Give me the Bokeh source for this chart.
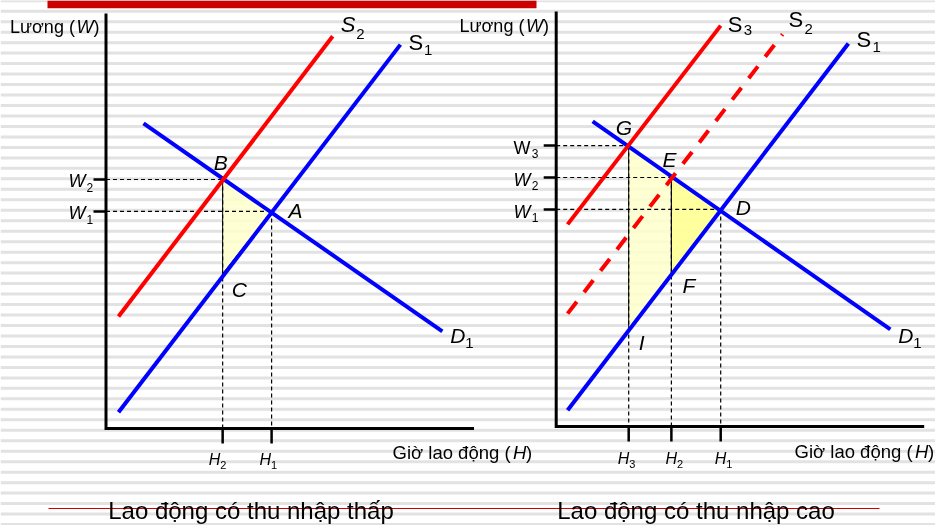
import numpy as np
from bokeh.plotting import figure
from bokeh.models import Range1d
from bokeh.core.properties import value
from bokeh.embed import file_html
from bokeh.resources import INLINE

# ---------------- DATA (economic units: hours H on x, wage W on y) ----------------
AXIS_MAX_H = 10.0
AXIS_MAX_W = 10.0

# Left panel: "Lao động có thu nhập thấp"
low_S1_H = [0.34, 8.00]
low_S1_W = [0.39, 9.25]
low_S2_H = [0.34, 6.16]
low_S2_W = [2.70, 9.45]
low_D1_H = [1.02, 9.14]
low_D1_W = [7.35, 2.34]
low_H_names = ["1", "2"]          # H1, H2
low_H_vals = [4.50, 3.17]
low_W_names = ["1", "2"]          # W1, W2
low_W_vals = [5.23, 6.00]
low_C_W = 3.73                    # S1 evaluated at H2 (point C)

# Right panel: "Lao động có thu nhập cao"
high_S1_H = [0.31, 7.94]
high_S1_W = [0.39, 9.23]
high_S2_H = [0.31, 6.15]
high_S2_W = [2.72, 9.45]
high_S3_H = [0.31, 4.47]
high_S3_W = [4.87, 9.66]
high_D1_H = [0.99, 9.08]
high_D1_W = [7.35, 2.34]
high_H_names = ["1", "2", "3"]    # H1, H2, H3
high_H_vals = [4.47, 3.13, 1.97]
high_W_names = ["1", "2", "3"]    # W1, W2, W3
high_W_vals = [5.23, 6.00, 6.77]
high_F_W = 3.69                   # S1 at H2 (point F)
high_I_W = 2.31                   # S1 at H3 (point I)

titles = ["Lao động có thu nhập thấp", "Lao động có thu nhập cao"]
y_axis_title = ["Lương (", "W", ")"]
x_axis_title = ["Giờ lao động (", "H", ")"]

# ---------------- LAYOUT / STYLE ----------------
PAGE_W, PAGE_H = 935, 525
FONT = "Liberation Sans"
PX_H = 36.8     # pixels per hour unit
PX_W = 41.5     # pixels per wage unit
LOW_ORIGIN = (105.5, 428.0)
HIGH_ORIGIN = (555.7, 426.0)
BLUE = "#0000FF"
RED = "#FF0000"
DARK_RED = "#CC0000"
PALE = "#FFFFCC"
BRIGHT = "#FFFF99"
TICK_W = 12.5 / PX_H
TICK_H = 15.0 / PX_W
BASELINE_FIX = 0.38   # measured: svg text lands ~0.38*size below the requested baseline

p = figure(width=PAGE_W, height=PAGE_H,
           x_range=Range1d(0, PAGE_W), y_range=Range1d(PAGE_H, 0),
           x_axis_type=None, y_axis_type=None,
           output_backend="svg", toolbar_location=None, min_border=0)
p.xgrid.visible = False
p.ygrid.visible = False
p.outline_line_color = None
p.background_fill_color = "white"
p.border_fill_color = "white"
p.styles = {"position": "fixed", "left": "0px", "top": "0px"}

p.extra_x_ranges = {
    "low_x": Range1d(-LOW_ORIGIN[0] / PX_H, (PAGE_W - LOW_ORIGIN[0]) / PX_H),
    "high_x": Range1d(-HIGH_ORIGIN[0] / PX_H, (PAGE_W - HIGH_ORIGIN[0]) / PX_H),
}
p.extra_y_ranges = {
    "low_y": Range1d(-(PAGE_H - LOW_ORIGIN[1]) / PX_W, LOW_ORIGIN[1] / PX_W),
    "high_y": Range1d(-(PAGE_H - HIGH_ORIGIN[1]) / PX_W, HIGH_ORIGIN[1] / PX_W),
}

# ---------------- background stripes & decorations (page coords) ----------------
stripe_y = np.arange(0.24, PAGE_H, 10.476)
p.segment(x0=[0] * len(stripe_y), x1=[PAGE_W] * len(stripe_y), y0=stripe_y, y1=stripe_y,
          line_color="#E2E2E2", line_width=3)
p.quad(left=[47], right=[536], top=[0], bottom=[7.7], fill_color=DARK_RED, line_color=None)
p.segment(x0=[48], x1=[879], y0=[508], y1=[508], line_color=DARK_RED, line_width=1.2)


def txt(x, y, s, size, italic=False, align="left", xo=0, yo=0, rx=None, ry=None):
    kw = {}
    if rx:
        kw["x_range_name"] = rx
        kw["y_range_name"] = ry
    p.text(x=[x], y=[y], text=[s], text_font=value(FONT), text_font_size=f"{size}px",
           text_font_style="italic" if italic else "normal", text_align=align,
           text_baseline="alphabetic", text_color="black", x_offset=xo,
           y_offset=yo - BASELINE_FIX * size, **kw)


def dashed(x0, y0, x1, y1, kw):
    p.segment(x0=x0, y0=y0, x1=x1, y1=y1, line_color="black", line_width=1.2,
              line_dash="4 3", **kw)


def axes_and_ticks(W_vals, H_vals, kw):
    p.line([0, 0, AXIS_MAX_H], [AXIS_MAX_W, 0, 0], line_color="black", line_width=3,
           line_join="miter", **kw)
    n = len(W_vals)
    p.segment(x0=[-TICK_W] * n, y0=W_vals, x1=[0] * n, y1=W_vals,
              line_color="black", line_width=2.5, **kw)
    m = len(H_vals)
    p.segment(x0=H_vals, y0=[0] * m, x1=H_vals, y1=[-TICK_H] * m,
              line_color="black", line_width=2.5, **kw)


# ================= LEFT PANEL =================
kwL = dict(x_range_name="low_x", y_range_name="low_y")
H1, H2 = low_H_vals
W1, W2 = low_W_vals
p.patch([H2, H1, H2], [W2, W1, low_C_W], fill_color=PALE, fill_alpha=0.85,
        line_color="black", line_width=1, **kwL)
dashed([0, 0], [W2, W1], [H2, H1], [W2, W1], kwL)
dashed([H2, H1], [W2, W1], [H2, H1], [0, 0], kwL)
axes_and_ticks(low_W_vals, low_H_vals, kwL)
p.line(low_D1_H, low_D1_W, line_color=BLUE, line_width=4, **kwL)
p.line(low_S1_H, low_S1_W, line_color=BLUE, line_width=4, **kwL)
p.line(low_S2_H, low_S2_W, line_color=RED, line_width=4, **kwL)

rL = dict(rx="low_x", ry="low_y")
# tick labels
for name, w in zip(low_W_names, low_W_vals):
    txt(0, w, "W", 18, italic=True, xo=-37.5, yo=8, **rL)
    txt(0, w, name, 12, xo=-19.5, yo=12.5, **rL)
low_H_lab_dx = [-12, -14]
for name, h, dx in zip(low_H_names, low_H_vals, low_H_lab_dx):
    txt(h, 0, "H", 16, italic=True, xo=dx, yo=37, **rL)
    txt(h, 0, name, 11, xo=dx + 11.5, yo=41, **rL)
# point labels
txt(H2, W2, "B", 21, italic=True, xo=-9, yo=-9, **rL)
txt(H1, W1, "A", 21, italic=True, xo=17, yo=7, **rL)
txt(H2, low_C_W, "C", 21, italic=True, xo=9, yo=24, **rL)
# curve labels
txt(low_S2_H[1], low_S2_W[1], "S", 22, italic=True, xo=8, yo=-3, **rL)
txt(low_S2_H[1], low_S2_W[1], "2", 15, xo=23.5, yo=3, **rL)
txt(low_S1_H[1], low_S1_W[1], "S", 22, xo=8, yo=6, **rL)
txt(low_S1_H[1], low_S1_W[1], "1", 15, xo=23.5, yo=11, **rL)
txt(low_D1_H[1], low_D1_W[1], "D", 21, italic=True, xo=8, yo=12, **rL)
txt(low_D1_H[1], low_D1_W[1], "1", 15, xo=23, yo=17, **rL)

# ================= RIGHT PANEL =================
kwR = dict(x_range_name="high_x", y_range_name="high_y")
h1, h2, h3 = high_H_vals
w1, w2, w3 = high_W_vals
p.patch([h3, h2, h2, h3], [w3, w2, high_F_W, high_I_W], fill_color=PALE, fill_alpha=0.85,
        line_color="black", line_width=1, **kwR)
p.patch([h2, h1, h2], [w2, w1, high_F_W], fill_color=BRIGHT, fill_alpha=0.95,
        line_color="black", line_width=1, **kwR)
dashed([0, 0, 0], [w3, w2, w1], [h3, h2, h1], [w3, w2, w1], kwR)
dashed([h3, h2, h1], [w3, w2, w1], [h3, h2, h1], [0, 0, 0], kwR)
axes_and_ticks(high_W_vals, high_H_vals, kwR)
p.line(high_D1_H, high_D1_W, line_color=BLUE, line_width=4, **kwR)
p.line(high_S1_H, high_S1_W, line_color=BLUE, line_width=4, **kwR)
p.line(high_S2_H, high_S2_W, line_color=RED, line_width=4, line_dash="15 12", **kwR)
p.line(high_S3_H, high_S3_W, line_color=RED, line_width=4, **kwR)

rR = dict(rx="high_x", ry="high_y")
for name, w in zip(high_W_names, high_W_vals):
    italic = name != "3"
    txt(0, w, "W", 18, italic=italic, xo=-42.7, yo=9, **rR)
    txt(0, w, name, 12, xo=-24.5, yo=13, **rR)
high_H_lab_dx = [-6, -6, -11]
for name, h, dx in zip(high_H_names, high_H_vals, high_H_lab_dx):
    txt(h, 0, "H", 16, italic=True, xo=dx, yo=38, **rR)
    txt(h, 0, name, 11, xo=dx + 11.5, yo=42, **rR)
txt(h3, w3, "G", 21, italic=True, xo=-13, yo=-10, **rR)
txt(h2, w2, "E", 21, italic=True, xo=-9, yo=-10, **rR)
txt(h1, w1, "D", 21, italic=True, xo=15, yo=6, **rR)
txt(h2, high_F_W, "F", 21, italic=True, xo=11, yo=20, **rR)
txt(h3, high_I_W, "I", 21, italic=True, xo=10, yo=20, **rR)
txt(high_S3_H[1], high_S3_W[1], "S", 22, xo=7, yo=7, **rR)
txt(high_S3_H[1], high_S3_W[1], "3", 15, xo=23, yo=10, **rR)
txt(high_S2_H[1], high_S2_W[1], "S", 22, xo=6, yo=-6, **rR)
txt(high_S2_H[1], high_S2_W[1], "2", 15, xo=22, yo=0, **rR)
txt(high_S1_H[1], high_S1_W[1], "S", 22, xo=8, yo=4, **rR)
txt(high_S1_H[1], high_S1_W[1], "1", 15, xo=24, yo=9, **rR)
txt(high_D1_H[1], high_D1_W[1], "D", 21, italic=True, xo=8, yo=14, **rR)
txt(high_D1_H[1], high_D1_W[1], "1", 15, xo=23, yo=19, **rR)

# ================= axis titles & panel titles (page coords) =================
for x0, xw, xc, bl in [(9.5, 76, 93, 33), (459, 525.5, 542.5, 32)]:
    txt(x0, bl, y_axis_title[0], 18)
    txt(xw, bl, y_axis_title[1], 18, italic=True)
    txt(xc, bl, y_axis_title[2], 18)
for x0, bl in [(392, 459), (794, 458)]:
    txt(x0, bl, x_axis_title[0], 18.5)
    txt(x0 + 120.5, bl, x_axis_title[1], 18.5, italic=True)
    txt(x0 + 133.5, bl, x_axis_title[2], 18.5)
txt(250.5, 519.5, titles[0], 24, align="center")
txt(695.5, 519.5, titles[1], 24, align="center")

open("out.html", "w").write(file_html(p, INLINE))
